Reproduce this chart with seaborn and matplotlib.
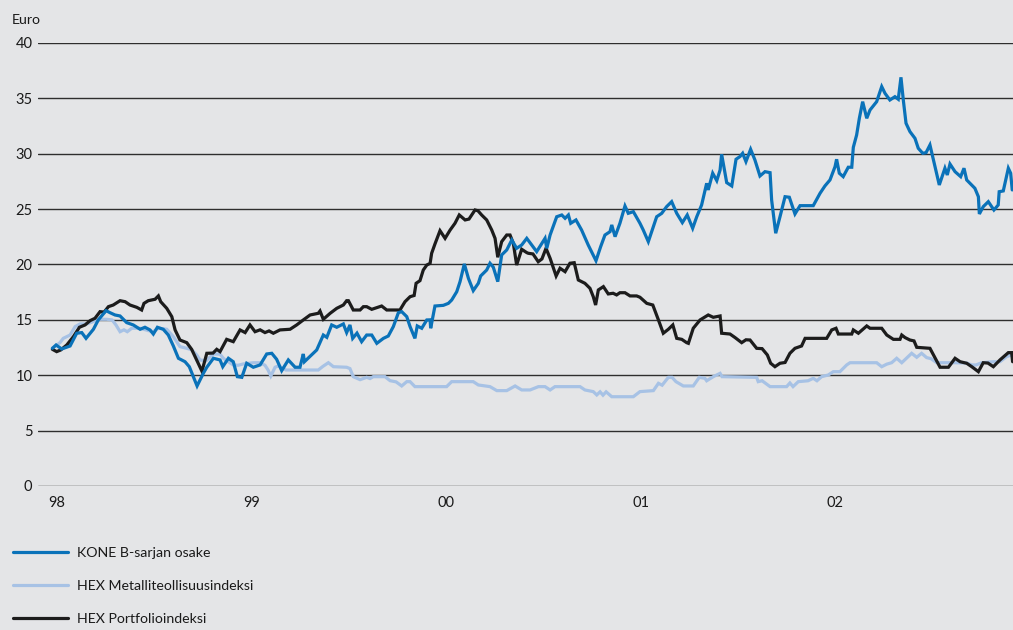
import matplotlib
matplotlib.use("Agg")
import matplotlib.pyplot as plt
import pandas as pd
import seaborn as sns
from matplotlib.lines import Line2D

# Time axis in decimal years, prices in euro
kone_t = [1997.976, 1997.995, 1998.024, 1998.067, 1998.101, 1998.127, 1998.149, 1998.187, 1998.212, 1998.252,
          1998.272, 1998.298, 1998.324, 1998.358, 1998.392, 1998.427, 1998.452, 1998.478, 1998.495, 1998.516,
          1998.546, 1998.572, 1998.598, 1998.624, 1998.658, 1998.680, 1998.701, 1998.720, 1998.752, 1998.770,
          1998.804, 1998.838, 1998.852, 1998.881, 1998.906, 1998.927, 1998.950, 1998.975, 1999.009, 1999.044,
          1999.078, 1999.104, 1999.129, 1999.155, 1999.189, 1999.224, 1999.249, 1999.266, 1999.272, 1999.335,
          1999.369, 1999.387, 1999.412, 1999.438, 1999.472, 1999.489, 1999.506, 1999.520, 1999.542, 1999.566,
          1999.592, 1999.618, 1999.644, 1999.678, 1999.703, 1999.729, 1999.755, 1999.772, 1999.798, 1999.815,
          1999.840, 1999.852, 1999.875, 1999.901, 1999.918, 1999.921, 1999.943, 1999.986, 2000.012, 2000.029,
          2000.055, 2000.072, 2000.094, 2000.115, 2000.140, 2000.166, 2000.178, 2000.209, 2000.226, 2000.243,
          2000.266, 2000.286, 2000.312, 2000.338, 2000.363, 2000.389, 2000.415, 2000.466, 2000.509, 2000.518,
          2000.535, 2000.569, 2000.595, 2000.612, 2000.629, 2000.641, 2000.668, 2000.697, 2000.731, 2000.771,
          2000.795, 2000.817, 2000.843, 2000.852, 2000.869, 2000.894, 2000.920, 2000.937, 2000.963, 2000.997,
          2001.014, 2001.040, 2001.083, 2001.109, 2001.134, 2001.160, 2001.186, 2001.215, 2001.240, 2001.268,
          2001.289, 2001.314, 2001.340, 2001.348, 2001.371, 2001.392, 2001.409, 2001.417, 2001.434, 2001.443,
          2001.469, 2001.491, 2001.511, 2001.525, 2001.542, 2001.566, 2001.588, 2001.614, 2001.640, 2001.666,
          2001.674, 2001.695, 2001.717, 2001.743, 2001.765, 2001.794, 2001.820, 2001.888, 2001.923, 2001.948,
          2001.974, 2002.000, 2002.008, 2002.022, 2002.042, 2002.068, 2002.086, 2002.094, 2002.111, 2002.125,
          2002.142, 2002.163, 2002.180, 2002.214, 2002.240, 2002.257, 2002.282, 2002.308, 2002.325, 2002.339,
          2002.351, 2002.365, 2002.385, 2002.411, 2002.428, 2002.451, 2002.468, 2002.488, 2002.514, 2002.536,
          2002.565, 2002.577, 2002.591, 2002.617, 2002.646, 2002.663, 2002.677, 2002.694, 2002.719, 2002.737,
          2002.742, 2002.762, 2002.788, 2002.817, 2002.839, 2002.844, 2002.865, 2002.891, 2002.903, 2002.911]
kone_v = [12.43, 12.73, 12.37, 12.64, 13.79, 13.85, 13.33, 14.15, 14.99, 15.83,
          15.65, 15.44, 15.35, 14.75, 14.54, 14.15, 14.33, 14.09, 13.72, 14.33,
          14.15, 13.63, 12.64, 11.53, 11.22, 10.77, 9.87, 9.03, 10.17, 10.72,
          11.53, 11.38, 10.77, 11.53, 11.22, 9.87, 9.81, 11.08, 10.72, 10.93,
          11.92, 11.98, 11.44, 10.41, 11.38, 10.72, 10.72, 11.92, 11.22, 12.28,
          13.63, 13.42, 14.54, 14.33, 14.63, 13.85, 14.54, 13.33, 13.80, 13.03,
          13.63, 13.63, 12.88, 13.33, 13.54, 14.39, 15.65, 15.74, 15.29, 14.39,
          13.33, 14.45, 14.24, 14.99, 15.00, 14.24, 16.25, 16.31, 16.49, 16.79,
          17.54, 18.45, 20.05, 18.75, 17.64, 18.30, 18.96, 19.50, 20.11, 19.75,
          18.45, 20.86, 21.31, 22.21, 21.46, 21.76, 22.36, 21.16, 22.36, 21.46,
          22.66, 24.31, 24.47, 24.17, 24.47, 23.72, 24.02, 23.11, 21.76, 20.34,
          21.61, 22.66, 22.96, 23.57, 22.51, 23.72, 25.28, 24.62, 24.77, 23.72,
          23.11, 22.06, 24.31, 24.62, 25.22, 25.67, 24.62, 23.78, 24.47, 23.27,
          24.31, 25.37, 27.33, 26.73, 28.24, 27.57, 28.53, 29.95, 28.24, 27.39,
          27.09, 29.50, 29.74, 30.04, 29.29, 30.40, 29.44, 27.99, 28.38, 28.29,
          25.82, 22.82, 24.31, 26.12, 26.07, 24.56, 25.31, 25.31, 26.43, 27.09,
          27.63, 28.83, 29.50, 28.24, 27.93, 28.78, 28.78, 30.58, 31.69, 33.20,
          34.70, 33.20, 33.95, 34.70, 36.06, 35.45, 34.85, 35.15, 34.92, 36.90,
          34.85, 32.75, 32.00, 31.39, 30.49, 30.04, 30.10, 30.79, 28.83, 27.18,
          28.69, 28.08, 29.07, 28.38, 27.93, 28.69, 27.63, 27.33, 26.88, 26.12,
          24.56, 25.22, 25.67, 24.92, 25.37, 26.57, 26.64, 28.69, 28.24, 26.73]

metal_t = [1997.976, 1998.015, 1998.032, 1998.067, 1998.093, 1998.118, 1998.153, 1998.180, 1998.212, 1998.256,
           1998.283, 1998.303, 1998.324, 1998.344, 1998.361, 1998.384, 1998.427, 1998.469, 1998.494, 1998.521,
           1998.564, 1998.598, 1998.615, 1998.632, 1998.667, 1998.692, 1998.718, 1998.735, 1998.766, 1998.804,
           1998.838, 1998.855, 1998.872, 1998.906, 1998.931, 1998.958, 1999.009, 1999.044, 1999.069, 1999.085,
           1999.099, 1999.121, 1999.138, 1999.177, 1999.343, 1999.367, 1999.395, 1999.421, 1999.489, 1999.506,
           1999.523, 1999.558, 1999.575, 1999.592, 1999.609, 1999.626, 1999.686, 1999.712, 1999.743, 1999.772,
           1999.798, 1999.815, 1999.840, 2000.003, 2000.029, 2000.140, 2000.166, 2000.226, 2000.261, 2000.312,
           2000.355, 2000.389, 2000.432, 2000.475, 2000.509, 2000.535, 2000.560, 2000.689, 2000.714, 2000.757,
           2000.775, 2000.792, 2000.807, 2000.823, 2000.852, 2000.963, 2000.997, 2001.066, 2001.092, 2001.111,
           2001.143, 2001.162, 2001.182, 2001.220, 2001.271, 2001.302, 2001.331, 2001.340, 2001.374, 2001.409,
           2001.419, 2001.597, 2001.605, 2001.625, 2001.666, 2001.751, 2001.768, 2001.784, 2001.811, 2001.861,
           2001.888, 2001.907, 2001.931, 2001.965, 2001.991, 2002.025, 2002.060, 2002.077, 2002.214, 2002.240,
           2002.266, 2002.291, 2002.317, 2002.343, 2002.365, 2002.394, 2002.420, 2002.445, 2002.471, 2002.493,
           2002.523, 2002.617, 2002.677, 2002.703, 2002.725, 2002.754, 2002.814, 2002.848, 2002.882, 2002.908]
metal_v = [12.43, 12.94, 13.33, 13.63, 14.39, 14.63, 14.63, 14.80, 15.05, 15.05,
           14.99, 14.54, 13.93, 14.10, 13.93, 14.24, 14.24, 14.03, 13.93, 14.24,
           14.15, 13.48, 13.03, 12.58, 12.43, 12.30, 11.83, 11.38, 11.30, 11.92,
           11.90, 11.53, 11.31, 10.93, 10.90, 11.02, 11.13, 11.13, 10.90, 10.47,
           9.93, 10.72, 10.84, 10.47, 10.47, 10.80, 11.13, 10.77, 10.72, 10.60,
           9.87, 9.60, 9.70, 9.81, 9.70, 9.87, 9.87, 9.51, 9.40, 9.03,
           9.42, 9.42, 8.97, 8.97, 9.42, 9.42, 9.12, 8.97, 8.61, 8.61,
           9.03, 8.67, 8.67, 8.97, 8.97, 8.67, 8.97, 8.97, 8.67, 8.52,
           8.22, 8.50, 8.20, 8.50, 8.06, 8.06, 8.52, 8.61, 9.27, 9.10,
           9.81, 9.81, 9.42, 9.03, 9.03, 9.81, 9.72, 9.50, 9.87, 10.17,
           9.87, 9.81, 9.42, 9.50, 8.97, 8.97, 9.30, 8.97, 9.42, 9.50,
           9.72, 9.50, 9.87, 10.02, 10.32, 10.32, 10.93, 11.13, 11.13, 10.77,
           11.00, 11.13, 11.53, 11.13, 11.50, 11.98, 11.62, 11.98, 11.59, 11.50,
           11.13, 11.13, 11.10, 10.93, 10.93, 11.13, 11.22, 11.22, 11.68, 11.83]

port_t = [1997.976, 1997.998, 1998.019, 1998.050, 1998.084, 1998.115, 1998.144, 1998.170, 1998.195, 1998.221,
          1998.242, 1998.264, 1998.289, 1998.324, 1998.350, 1998.375, 1998.410, 1998.435, 1998.447, 1998.469,
          1998.504, 1998.521, 1998.533, 1998.564, 1998.590, 1998.607, 1998.632, 1998.667, 1998.692, 1998.718,
          1998.745, 1998.770, 1998.802, 1998.821, 1998.838, 1998.872, 1998.906, 1998.941, 1998.967, 1998.992,
          1999.018, 1999.044, 1999.069, 1999.090, 1999.112, 1999.146, 1999.198, 1999.232, 1999.266, 1999.301,
          1999.343, 1999.352, 1999.369, 1999.404, 1999.438, 1999.472, 1999.489, 1999.498, 1999.523, 1999.558,
          1999.575, 1999.592, 1999.618, 1999.644, 1999.669, 1999.695, 1999.763, 1999.789, 1999.815, 1999.836,
          1999.846, 1999.866, 1999.883, 1999.901, 1999.918, 1999.926, 1999.943, 1999.969, 1999.995, 2000.021,
          2000.046, 2000.068, 2000.098, 2000.118, 2000.149, 2000.164, 2000.183, 2000.209, 2000.235, 2000.252,
          2000.266, 2000.286, 2000.312, 2000.329, 2000.346, 2000.363, 2000.389, 2000.415, 2000.423, 2000.447,
          2000.474, 2000.493, 2000.514, 2000.535, 2000.566, 2000.586, 2000.612, 2000.637, 2000.659, 2000.680,
          2000.714, 2000.740, 2000.757, 2000.769, 2000.783, 2000.809, 2000.834, 2000.859, 2000.877, 2000.894,
          2000.920, 2000.946, 2000.980, 2000.997, 2001.032, 2001.063, 2001.092, 2001.117, 2001.143, 2001.166,
          2001.186, 2001.212, 2001.237, 2001.246, 2001.271, 2001.306, 2001.348, 2001.374, 2001.409, 2001.417,
          2001.460, 2001.486, 2001.520, 2001.542, 2001.563, 2001.597, 2001.625, 2001.652, 2001.669, 2001.691,
          2001.717, 2001.743, 2001.768, 2001.794, 2001.828, 2001.846, 2001.957, 2001.983, 2002.005, 2002.017,
          2002.086, 2002.094, 2002.120, 2002.163, 2002.180, 2002.240, 2002.266, 2002.300, 2002.334, 2002.343,
          2002.360, 2002.385, 2002.406, 2002.420, 2002.488, 2002.509, 2002.540, 2002.583, 2002.617, 2002.643,
          2002.677, 2002.703, 2002.737, 2002.762, 2002.786, 2002.814, 2002.848, 2002.891, 2002.908, 2002.913]
port_v = [12.34, 12.13, 12.28, 12.73, 13.48, 14.33, 14.54, 14.93, 15.14, 15.74,
          15.70, 16.19, 16.34, 16.73, 16.64, 16.34, 16.13, 15.89, 16.49, 16.73,
          16.86, 17.16, 16.64, 16.04, 15.29, 14.09, 13.18, 12.94, 12.34, 11.38,
          10.36, 11.98, 12.00, 12.34, 12.13, 13.24, 13.03, 14.09, 13.85, 14.54,
          13.93, 14.10, 13.85, 14.00, 13.79, 14.09, 14.15, 14.54, 14.99, 15.44,
          15.59, 15.80, 15.05, 15.59, 16.04, 16.34, 16.73, 16.73, 15.89, 15.89,
          16.19, 16.19, 15.95, 16.10, 16.25, 15.89, 15.89, 16.64, 17.09, 17.20,
          18.30, 18.54, 19.50, 19.95, 20.10, 21.01, 21.85, 23.05, 22.36, 23.11,
          23.72, 24.47, 24.02, 24.10, 24.92, 24.85, 24.47, 24.02, 23.11, 22.36,
          20.65, 22.06, 22.66, 22.66, 21.91, 19.95, 21.37, 21.07, 21.01, 20.95,
          20.25, 20.50, 21.46, 20.56, 18.96, 19.66, 19.35, 20.11, 20.16, 18.60,
          18.30, 17.85, 17.09, 16.34, 17.70, 18.00, 17.34, 17.40, 17.25, 17.45,
          17.45, 17.16, 17.16, 17.04, 16.49, 16.34, 14.99, 13.79, 14.15, 14.54,
          13.33, 13.24, 12.94, 12.88, 14.24, 14.99, 15.44, 15.23, 15.35, 13.79,
          13.72, 13.40, 12.94, 13.20, 13.18, 12.43, 12.40, 11.83, 11.08, 10.77,
          11.08, 11.15, 11.98, 12.43, 12.64, 13.33, 13.33, 14.09, 14.24, 13.72,
          13.72, 14.09, 13.79, 14.45, 14.24, 14.24, 13.63, 13.24, 13.24, 13.63,
          13.40, 13.18, 13.10, 12.52, 12.43, 11.74, 10.72, 10.72, 11.53, 11.22,
          11.08, 10.77, 10.32, 11.13, 11.10, 10.77, 11.38, 12.04, 12.04, 11.22]

series_names = ["KONE B-sarjan osake", "HEX Metalliteollisuusindeksi", "HEX Portfolioindeksi"]
series_colors = ["#0a72b9", "#a7c2e5", "#1c1c1c"]
year_ticks = [1998, 1999, 2000, 2001, 2002]
year_labels = ["98", "99", "00", "01", "02"]
y_ticks = [0, 5, 10, 15, 20, 25, 30, 35, 40]

bg = "#e4e5e7"
sns.set_style("white")
plt.rcParams["font.family"] = ["Lato", "DejaVu Sans"]

fig = plt.figure(figsize=(10.13, 6.3), dpi=100, facecolor=bg)
ax = fig.add_axes([0.0375, 0.2286, 0.9625, 0.7032])
ax.set_facecolor(bg)

frames = {
    series_names[0]: pd.DataFrame({"t": kone_t, "v": kone_v}),
    series_names[1]: pd.DataFrame({"t": metal_t, "v": metal_v}),
    series_names[2]: pd.DataFrame({"t": port_t, "v": port_v}),
}
# metal index at the back, KONE share on top
for idx in (1, 2, 0):
    name = series_names[idx]
    sns.lineplot(data=frames[name], x="t", y="v", ax=ax, color=series_colors[idx],
                 linewidth=2.3, estimator=None, sort=False, legend=False,
                 solid_joinstyle="miter")

ax.set_xlim(1997.902, 2002.915)
ax.set_ylim(0, 40)
ax.set_yticks(y_ticks)
ax.set_xticks(year_ticks)
ax.set_xticklabels(year_labels)
ax.set_xlabel("")
ax.set_ylabel("")
for s in ax.spines.values():
    s.set_visible(False)
ax.yaxis.grid(True, color="#2e2e2e", linewidth=1.0)
ax.set_axisbelow(True)
ax.tick_params(axis="y", length=0, pad=4, labelsize=10.5, labelcolor="#1a1a1a")
ax.tick_params(axis="x", direction="in", length=8.5, width=1.0, color="#1a1a1a",
               pad=7, labelsize=10.5, labelcolor="#1a1a1a")

fig.text(12 / 1013, 1 - 20 / 630, "Euro", ha="left", va="center", fontsize=10.2, color="#1a1a1a")

handles = [Line2D([], [], color=c, linewidth=2.3) for c in series_colors]
fig.legend(handles, series_names, loc="upper left", bbox_to_anchor=(0.013, 0.132),
           frameon=False, fontsize=10.2, handlelength=3.9, handletextpad=0.6,
           labelspacing=1.5, borderpad=0, borderaxespad=0, labelcolor="#1a1a1a")

fig.savefig("out.png", dpi=100, facecolor=bg)
